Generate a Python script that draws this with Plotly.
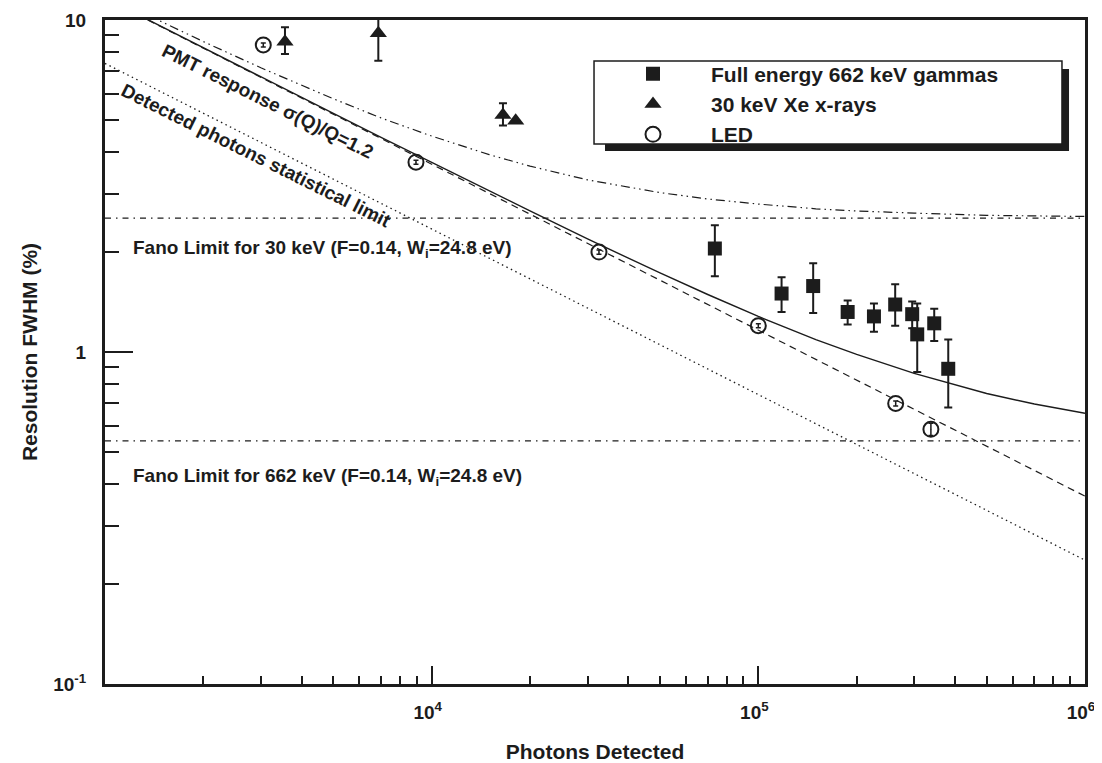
import plotly.graph_objects as go

# photons detected vs resolution FWHM (%)
gamma_x = [73600, 117800, 147200, 187700, 225900, 262400, 295800, 306500, 345500, 381400]
gamma_y = [2.05, 1.50, 1.58, 1.32, 1.28, 1.39, 1.30, 1.13, 1.22, 0.89]
gamma_up = [0.36, 0.18, 0.27, 0.11, 0.12, 0.21, 0.12, 0.27, 0.13, 0.20]
gamma_dn = [0.36, 0.18, 0.27, 0.11, 0.13, 0.19, 0.12, 0.26, 0.14, 0.21]

xray_x = [3556, 6866, 16530, 18080]
xray_y = [8.60, 9.12, 5.17, 4.97]
xray_up = [0.91, 1.20, 0.44, 0]
xray_dn = [0.70, 1.58, 0.36, 0]

led_x = [3052, 8953, 32520, 100000, 263300, 337500]
led_y = [8.41, 3.73, 2.00, 1.20, 0.70, 0.585]
led_err = [0.12, 0.05, 0.03, 0.017, 0.012, 0.025]

# model curves
curve_x = [1e3, 1.5e3, 2e3, 3e3, 5e3, 7e3, 1e4, 1.5e4, 2e4, 3e4, 5e4, 7e4,
           1e5, 1.5e5, 2e5, 3e5, 5e5, 7e5, 1e6]
total_662 = [11.65, 9.51, 8.24, 6.74, 5.23, 4.43, 3.72, 3.05, 2.66, 2.19, 1.73, 1.49,
             1.28, 1.09, 0.984, 0.862, 0.750, 0.697, 0.654]
total_30 = [11.91, 9.83, 8.61, 7.18, 5.79, 5.07, 4.47, 3.93, 3.63, 3.30, 3.02, 2.89,
            2.79, 2.70, 2.66, 2.62, 2.58, 2.57, 2.56]
line_x = [1e3, 1e6]
pmt_y = [11.63, 0.368]
stat_y = [7.40, 0.236]
fano30_y = [2.53, 2.53]
fano662_y = [0.54, 0.54]

INK = "#1c1c1c"
FONT = "Liberation Sans, Arial, sans-serif"

fig = go.Figure()

fig.add_trace(go.Scatter(x=line_x, y=fano30_y, mode="lines", showlegend=False,
                         line=dict(color=INK, width=1.2, dash="6px,5px,1.5px,5px")))
fig.add_trace(go.Scatter(x=line_x, y=fano662_y, mode="lines", showlegend=False,
                         line=dict(color=INK, width=1.2, dash="6px,5px,1.5px,5px")))
fig.add_trace(go.Scatter(x=line_x, y=stat_y, mode="lines", showlegend=False,
                         line=dict(color=INK, width=1.3, dash="1.5px,3.5px")))
fig.add_trace(go.Scatter(x=line_x, y=pmt_y, mode="lines", showlegend=False,
                         line=dict(color=INK, width=1.2, dash="7px,5px")))
fig.add_trace(go.Scatter(x=curve_x, y=total_662, mode="lines", showlegend=False,
                         line=dict(color=INK, width=1.4)))
fig.add_trace(go.Scatter(x=curve_x, y=total_30, mode="lines", showlegend=False,
                         line=dict(color=INK, width=1.2, dash="9px,4px,1.5px,4px,1.5px,4px")))

# error bars drawn separately so the legend keeps plain symbols
fig.add_trace(go.Scatter(x=gamma_x, y=gamma_y, mode="markers", showlegend=False,
                         marker=dict(size=1, color=INK),
                         error_y=dict(type="data", array=gamma_up, arrayminus=gamma_dn,
                                      color=INK, thickness=2, width=4)))
fig.add_trace(go.Scatter(x=xray_x, y=xray_y, mode="markers", showlegend=False,
                         marker=dict(size=1, color=INK),
                         error_y=dict(type="data", array=xray_up, arrayminus=xray_dn,
                                      color=INK, thickness=2, width=4)))
fig.add_trace(go.Scatter(x=led_x, y=led_y, mode="markers", showlegend=False,
                         marker=dict(size=1, color=INK),
                         error_y=dict(type="data", array=led_err,
                                      color=INK, thickness=1.5, width=2.5)))

fig.add_trace(go.Scatter(x=gamma_x, y=gamma_y, mode="markers", name="Full energy 662 keV gammas",
                         marker=dict(symbol="square", size=14, color=INK)))
fig.add_trace(go.Scatter(x=xray_x, y=xray_y, mode="markers", name="30 keV Xe x-rays",
                         marker=dict(symbol="triangle-up", size=15, color=INK)))
fig.add_trace(go.Scatter(x=led_x, y=led_y, mode="markers", name="LED",
                         marker=dict(symbol="circle-open", size=15, color=INK,
                                     line=dict(width=2, color=INK))))

# text labels on the curves
label_font = dict(family=FONT, size=19, color=INK, weight="bold")
fig.add_annotation(xref="paper", yref="paper", x=0.1663, y=0.877, showarrow=False,
                   xanchor="center", yanchor="middle",
                   text="PMT response σ(Q)/Q=1.2", textangle=26.5, font=label_font)
fig.add_annotation(xref="paper", yref="paper", x=0.154, y=0.796, showarrow=False,
                   xanchor="center", yanchor="middle",
                   text="Detected photons statistical limit", textangle=26.5, font=label_font)
fano_font = dict(family=FONT, size=19, color=INK, weight="bold")
fig.add_annotation(xref="paper", yref="paper", x=0.0265, y=0.655, xanchor="left", yanchor="middle",
                   showarrow=False,
                   text="Fano Limit for 30 keV (F=0.14, W<sub>i</sub>=24.8 eV)", font=fano_font)
fig.add_annotation(xref="paper", yref="paper", x=0.0265, y=0.312, xanchor="left", yanchor="middle",
                   showarrow=False,
                   text="Fano Limit for 662 keV (F=0.14, W<sub>i</sub>=24.8 eV)", font=fano_font)

# legend frame with drop shadow
fig.add_shape(type="rect", xref="paper", yref="paper", x0=0.5102, x1=0.9837, y0=0.8027, y1=0.9262,
              fillcolor=INK, line=dict(width=0), layer="above")
fig.add_shape(type="rect", xref="paper", yref="paper", x0=0.499, x1=0.9765, y0=0.8133, y1=0.9383,
              fillcolor="white", line=dict(color=INK, width=1.5), layer="above")

minor_x = [m * 10 ** e for e in (3, 4, 5) for m in range(2, 10)]
minor_y = [m * 10 ** e for e in (-1, 0) for m in range(2, 10)]
tick_font = dict(family=FONT, size=19, color=INK, weight="bold")
title_font = dict(family=FONT, size=21, color=INK, weight="bold")

# page body adds an 8px margin, so the figure is 8px smaller each way
fig.update_layout(
    width=1094, height=755,
    margin=dict(l=97, r=17, t=12, b=79),
    paper_bgcolor="white", plot_bgcolor="white",
    legend=dict(x=0.5, y=0.9495, xanchor="left", yanchor="top", bgcolor="rgba(0,0,0,0)",
                borderwidth=0, itemwidth=106, tracegroupgap=0,
                font=dict(family=FONT, size=21, color=INK, weight="bold")),
    xaxis=dict(type="log", range=[3, 6], tickvals=[1e4, 1e5, 1e6],
               ticktext=["10<sup>4</sup>", "10<sup>5</sup>", "10<sup>6</sup>"],
               ticks="inside", ticklen=18, tickwidth=2, tickcolor=INK,
               minor=dict(tickvals=minor_x, ticks="inside", ticklen=8, tickwidth=1.5, tickcolor=INK),
               showline=True, linewidth=3, linecolor=INK, mirror=True, automargin=False,
               showgrid=False, zeroline=False, tickfont=tick_font, ticklabelstandoff=9,
               ticklabelshift=-4,
               title=dict(text="Photons Detected", font=title_font, standoff=25)),
    yaxis=dict(type="log", range=[-1, 1], tickvals=[0.1, 1, 10],
               ticktext=["10<sup>-1</sup>", "1", "10"],
               ticks="inside", ticklen=28, tickwidth=2, tickcolor=INK,
               minor=dict(tickvals=minor_y, ticks="inside", ticklen=14, tickwidth=1.5, tickcolor=INK),
               showline=True, linewidth=3, linecolor=INK, mirror=True, automargin=False,
               showgrid=False, zeroline=False, tickfont=tick_font, ticklabelstandoff=12,
               title=dict(text="Resolution FWHM (%)", font=title_font, standoff=10)),
)

fig.write_html("out.html")
